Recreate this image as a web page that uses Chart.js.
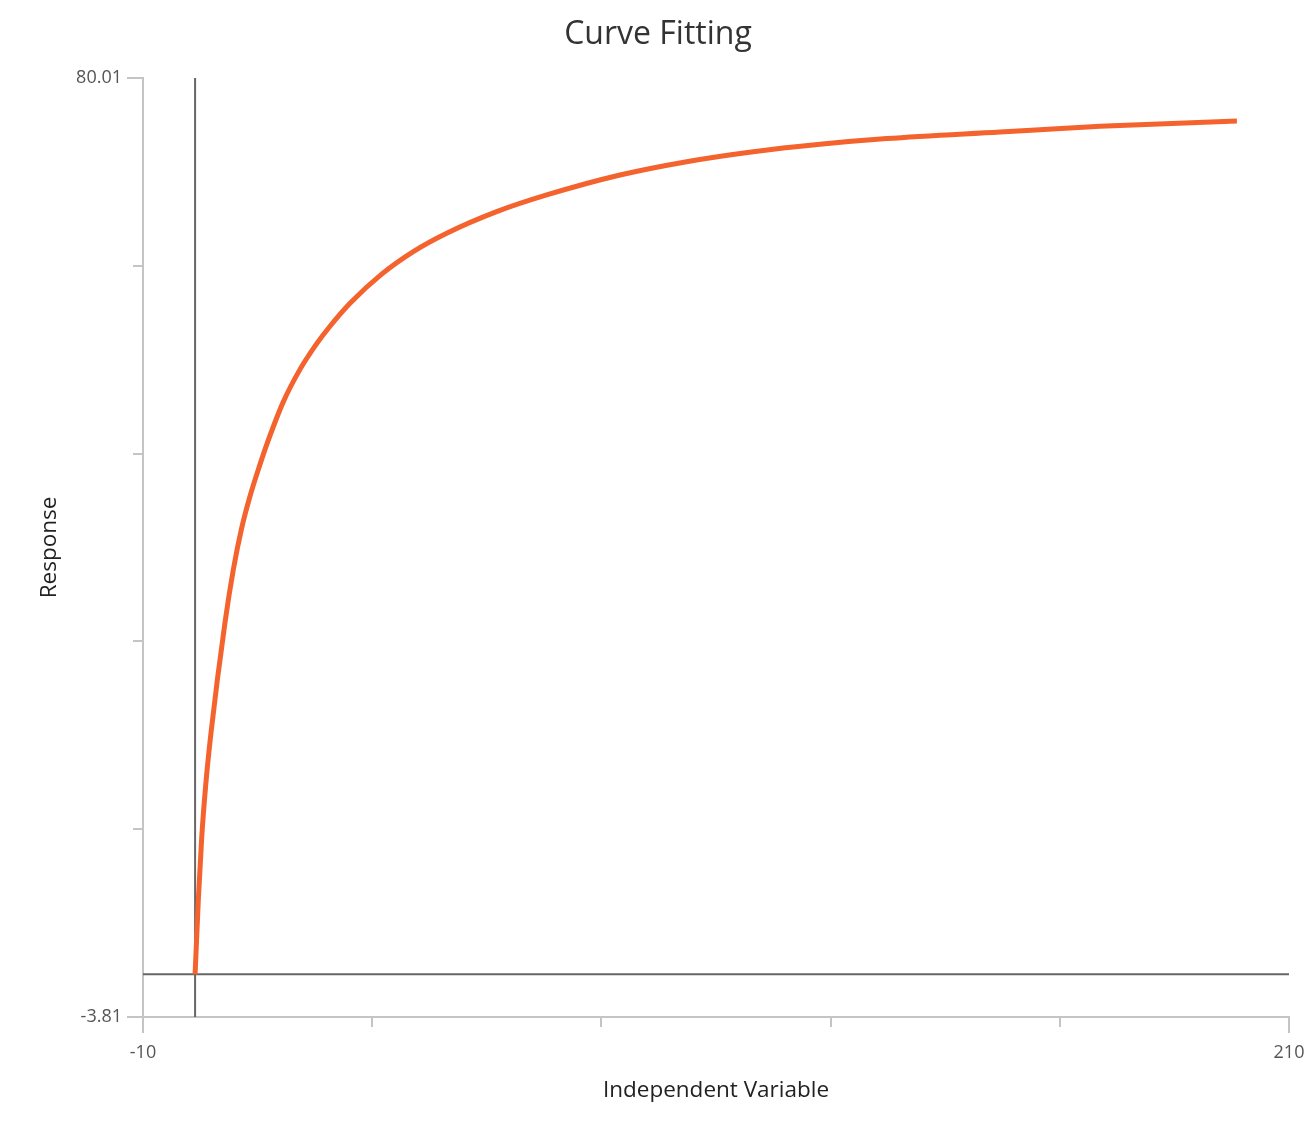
<!DOCTYPE html>
<html lang="en">
<head>
    <meta charset="UTF-8">
    <title>Curve Fitting</title>
    <script src="https://cdn.jsdelivr.net/npm/chart.js"></script>
    <style>
        body { margin: 0; background: #fff; }
        #wrap { width: 1316px; height: 1136px; }
    </style>
</head>
<body>
    <div id="wrap"><canvas id="grafico"></canvas></div>

    <script>
        // fitted curve
        const curveX = [0, 0.62, 1.27, 2.04, 3.05, 5.74, 7.33, 8.95, 10.54, 12.46, 13.75, 16.93, 20.14, 23.35,
            25.9, 29.74, 35.82, 41.89, 48.3, 57.9, 67.5, 81.57, 94.37, 107.16, 119.96, 132.77, 154.52, 173.72, 200];
        const curveY = [0, 6.63, 12.2, 16.9, 21.54, 31.4, 36.1, 39.85, 42.68, 45.52, 47.29, 51.1, 54.0, 56.3,
            57.85, 59.9, 62.5, 64.51, 66.15, 68.08, 69.57, 71.35, 72.54, 73.43, 74.09, 74.6, 75.19, 75.7, 76.17];

        // axes
        const xTicks = [-10, 34, 78, 122, 166, 210];
        const xTickLabels = ['-10', '', '', '', '', '210'];
        const yTicks = [-3.81, 12.954, 29.718, 46.482, 63.246, 80.01];
        const yTickLabels = ['-3.81', '', '', '', '', '80.01'];

        const xMin = xTicks[0], xMax = xTicks[xTicks.length - 1];
        const yMin = yTicks[0], yMax = yTicks[yTicks.length - 1];

        const fonte = "'Open Sans', 'Noto Sans', sans-serif";
        const corEixo = '#c4c4c4';

        // the two end ticks of each axis are a bit longer
        const ticksLongos = {
            id: 'ticksLongos',
            afterDraw(chart) {
                const ctx = chart.ctx;
                const sx = chart.scales.x, sy = chart.scales.y;
                ctx.save();
                ctx.strokeStyle = corEixo;
                ctx.lineWidth = 2;
                ctx.beginPath();
                [yMin, yMax].forEach(v => {
                    const py = sy.getPixelForValue(v);
                    ctx.moveTo(sx.left - 16, py);
                    ctx.lineTo(sx.left - 10, py);
                });
                [xMin, xMax].forEach(v => {
                    const px = sx.getPixelForValue(v);
                    ctx.moveTo(px, sy.bottom + 10);
                    ctx.lineTo(px, sy.bottom + 16);
                });
                ctx.stroke();
                ctx.restore();
            }
        };

        let ctx = document.getElementById('grafico').getContext('2d');
        let grafico = new Chart(ctx, {
            type: 'scatter',
            data: {
                datasets: [
                    {
                        label: 'Response',
                        data: curveX.map((x, i) => ({ x: x, y: curveY[i] })),
                        borderColor: '#f4632e',
                        borderWidth: 5,
                        showLine: true,
                        pointRadius: 0,
                        cubicInterpolationMode: 'monotone',
                        order: 0
                    },
                    {
                        label: 'x = 0',
                        data: [{ x: 0, y: yMin }, { x: 0, y: yMax }],
                        borderColor: '#666666',
                        borderWidth: 2,
                        showLine: true,
                        pointRadius: 0,
                        order: 1
                    },
                    {
                        label: 'y = 0',
                        data: [{ x: xMin, y: 0 }, { x: xMax, y: 0 }],
                        borderColor: '#666666',
                        borderWidth: 2,
                        showLine: true,
                        pointRadius: 0,
                        order: 1
                    }
                ]
            },
            plugins: [ticksLongos],
            options: {
                responsive: true,
                maintainAspectRatio: false,
                animation: false,
                layout: { padding: 0 },
                plugins: {
                    legend: { display: false },
                    tooltip: { enabled: false },
                    title: {
                        display: true,
                        text: 'Curve Fitting',
                        color: '#333333',
                        font: { family: fonte, size: 32, weight: 'normal' },
                        padding: { top: 16, bottom: 23.6 }
                    }
                },
                scales: {
                    x: {
                        type: 'linear',
                        min: xMin,
                        max: xMax,
                        afterBuildTicks: s => { s.ticks = xTicks.map(v => ({ value: v })); },
                        // fixed height, and a 27px margin on the right (title stays centred on the page)
                        afterFit: s => { s.height = 119; s.paddingRight = 27; },
                        ticks: {
                            autoSkip: false,
                            maxRotation: 0,
                            color: '#555555',
                            padding: 15,
                            font: { family: fonte, size: 18 },
                            callback: (v, i) => xTickLabels[i]
                        },
                        grid: { drawOnChartArea: false, color: corEixo, lineWidth: 2, tickLength: 10 },
                        border: { color: corEixo, width: 2 },
                        title: {
                            display: true,
                            text: 'Independent Variable',
                            color: '#222222',
                            font: { family: fonte, size: 22.5 },
                            padding: { top: 0, bottom: 31.5 }
                        }
                    },
                    y: {
                        type: 'linear',
                        min: yMin,
                        max: yMax,
                        afterBuildTicks: s => { s.ticks = yTicks.map(v => ({ value: v })); },
                        afterFit: s => { s.width = 143; },
                        ticks: {
                            autoSkip: false,
                            color: '#555555',
                            padding: 11,
                            font: { family: fonte, size: 18 },
                            callback: (v, i) => yTickLabels[i]
                        },
                        grid: { drawOnChartArea: false, color: corEixo, lineWidth: 2, tickLength: 10 },
                        border: { color: corEixo, width: 2 },
                        title: {
                            display: true,
                            text: 'Response',
                            color: '#222222',
                            font: { family: fonte, size: 22.5 },
                            padding: { top: 36.5, bottom: 0 }
                        }
                    }
                }
            }
        });
    </script>
</body>
</html>
